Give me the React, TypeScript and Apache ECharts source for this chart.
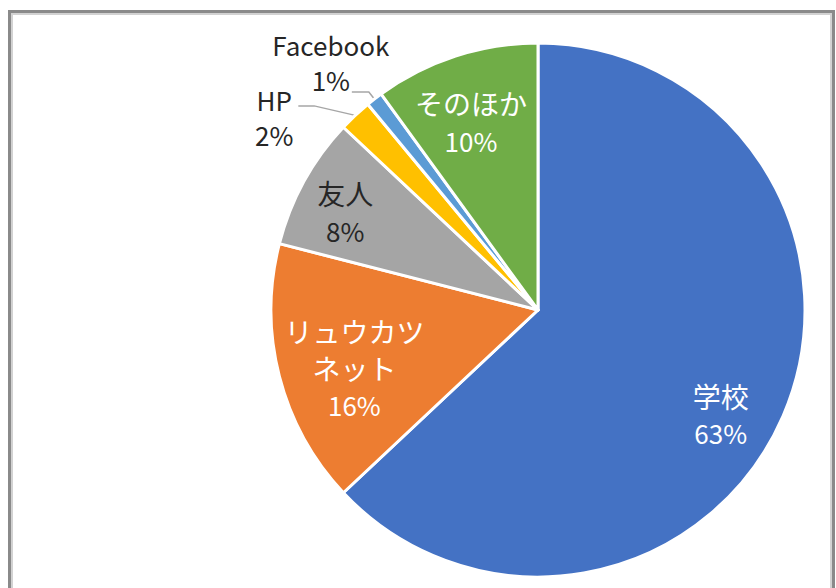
import React, { useEffect, useRef } from "react";
import * as echarts from "echarts";

const categories = ["学校", "リュウカツネット", "友人", "HP", "Facebook", "そのほか"];
const labelNames = ["学校", "リュウカツ\nネット", "友人", "HP", "Facebook", "そのほか"];
const values = [63, 16, 8, 2, 1, 10];
const colors = ["#4472C4", "#ED7D31", "#A5A5A5", "#FFC000", "#5B9BD5", "#70AD47"];
const insideTextColors = ["#FFFFFF", "#FFFFFF", "#262626", "", "", "#FFFFFF"];
const outsideNames = ["HP", "Facebook"];

const FONT = "'Noto Sans CJK JP', 'Noto Sans', sans-serif";
const CENTER = [538, 310];
const R = 267;
const DARK = "#262626";

// fine placement of inside labels (padding top, right, bottom, left)
const insidePadding: Record<string, number[]> = {
  学校: [46, 9, 0, 0],
  リュウカツネット: [14, 0, 0, 28],
  友人: [0, 28, 0, 0],
  そのほか: [12, 8, 0, 0],
};

export default function App() {
  const ref = useRef<HTMLDivElement>(null);

  useEffect(() => {
    if (!ref.current) return;
    const chart = echarts.init(ref.current, undefined, { renderer: "svg" });

    const outsideCfg: Record<string, any> = {
      HP: {
        label: { padding: [23, 0, 0, 0] },
        labelLine: { length: 13, length2: 48, minTurnAngle: 167 },
      },
      Facebook: {
        label: { padding: [0, 32, 59, 0] },
        labelLine: { length: 9, length2: 17 },
      },
    };

    const mainData = categories.map((c, i) => {
      const isOut = outsideNames.includes(c);
      const cfg = outsideCfg[c];
      return {
        name: c,
        value: values[i],
        itemStyle: { color: colors[i] },
        label: isOut
          ? {
              show: true,
              position: "outside",
              fontFamily: FONT,
              fontSize: 26,
              color: DARK,
              overflow: "none",
              formatter: (p: any) =>
                `{t|${labelNames[p.dataIndex]}}\n{t|${Math.round(p.percent)}%}`,
              rich: {
                t: {
                  fontFamily: FONT,
                  fontSize: 26,
                  lineHeight: 35,
                  color: DARK,
                  align: "center",
                },
              },
              ...cfg.label,
            }
          : { show: false },
        labelLine: isOut
          ? {
              show: true,
              smooth: false,
              lineStyle: { color: "#A6A6A6", width: 1.5 },
              ...cfg.labelLine,
            }
          : { show: false },
      };
    });

    const innerData = categories.map((c, i) => {
      const isOut = outsideNames.includes(c);
      return {
        name: c,
        value: values[i],
        label: isOut
          ? { show: false }
          : {
              show: true,
              position: "inside",
              color: insideTextColors[i],
              fontFamily: FONT,
              padding: insidePadding[c],
              formatter: (p: any) =>
                `{n|${labelNames[p.dataIndex]}}\n{p|${Math.round(p.percent)}%}`,
              rich: {
                n: { fontFamily: FONT, fontSize: 28, lineHeight: 37, color: insideTextColors[i], align: "center" },
                p: { fontFamily: FONT, fontSize: 26, lineHeight: 37, color: insideTextColors[i], align: "center" },
              },
            },
        labelLine: { show: false },
      };
    });

    chart.setOption({
      animation: false,
      backgroundColor: "#FFFFFF",
      series: [
        {
          type: "pie",
          center: CENTER,
          radius: R,
          startAngle: 90,
          clockwise: true,
          avoidLabelOverlap: false,
          silent: true,
          emphasis: { disabled: true },
          itemStyle: { borderColor: "#FFFFFF", borderWidth: 3 },
          labelLayout: (p: any) =>
            p.dataIndex === categories.indexOf("Facebook") ? { align: "center" } : {},
          data: mainData,
        },
        {
          type: "pie",
          center: CENTER,
          radius: [135, R],
          startAngle: 90,
          clockwise: true,
          avoidLabelOverlap: false,
          silent: true,
          emphasis: { disabled: true },
          itemStyle: { color: "rgba(0,0,0,0)", borderWidth: 0 },
          data: innerData,
        },
      ],
    });

    return () => chart.dispose();
  }, []);

  return (
    <div
      style={{
        position: "fixed",
        left: 0,
        top: 0,
        width: 836,
        height: 588,
        background: "#FFFFFF",
        overflow: "hidden",
      }}
    >
      <div ref={ref} style={{ position: "absolute", left: 0, top: 0, width: 836, height: 588 }} />
      <div
        style={{
          position: "absolute",
          left: 8,
          top: 10,
          width: 827,
          height: 620,
          boxSizing: "border-box",
          border: "3px solid #8A8A8A",
          boxShadow: "inset 0 0 0 2px #D2D2D2",
          pointerEvents: "none",
        }}
      />
    </div>
  );
}
